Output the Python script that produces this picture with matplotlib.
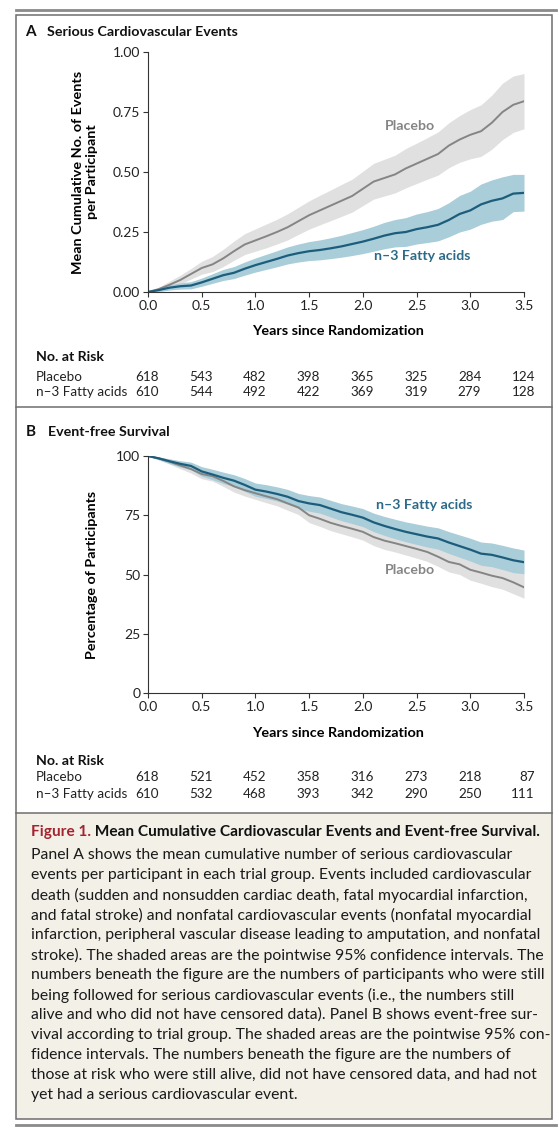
import numpy as np
import matplotlib
matplotlib.use('Agg')
import matplotlib.pyplot as plt
from matplotlib.patches import Rectangle

plt.rcParams['font.family'] = ['Lato', 'DejaVu Sans']

# years since randomization
years = [0.0, 0.1, 0.2, 0.3, 0.4, 0.5, 0.6, 0.7, 0.8, 0.9, 1.0, 1.1, 1.2, 1.3, 1.4, 1.5, 1.6, 1.7,
         1.8, 1.9, 2.0, 2.1, 2.2, 2.3, 2.4, 2.5, 2.6, 2.7, 2.8, 2.9, 3.0, 3.1, 3.2, 3.3, 3.4, 3.5]

# Panel A: mean cumulative events per participant
a_placebo = [0.0, 0.012, 0.03, 0.05, 0.075, 0.1, 0.115, 0.14, 0.17, 0.198, 0.215, 0.232, 0.25, 0.27,
             0.295, 0.32, 0.34, 0.36, 0.38, 0.4, 0.43, 0.46, 0.475, 0.49, 0.515, 0.535, 0.555, 0.575,
             0.61, 0.635, 0.655, 0.67, 0.705, 0.75, 0.78, 0.795]
a_placebo_hi = [0.0, 0.02, 0.045, 0.07, 0.098, 0.128, 0.148, 0.178, 0.212, 0.243, 0.263, 0.283, 0.303,
                0.326, 0.353, 0.38, 0.403, 0.425, 0.448, 0.47, 0.503, 0.536, 0.553, 0.57, 0.598, 0.62,
                0.643, 0.667, 0.705, 0.735, 0.76, 0.78, 0.82, 0.87, 0.9, 0.91]
a_placebo_lo = [0.0, 0.005, 0.018, 0.033, 0.054, 0.074, 0.085, 0.106, 0.132, 0.156, 0.17, 0.184, 0.2,
                0.217, 0.24, 0.262, 0.28, 0.297, 0.315, 0.333, 0.36, 0.387, 0.4, 0.413, 0.434, 0.452,
                0.47, 0.487, 0.518, 0.54, 0.555, 0.565, 0.595, 0.635, 0.665, 0.68]
a_n3 = [0.0, 0.008, 0.018, 0.024, 0.027, 0.04, 0.055, 0.07, 0.08, 0.097, 0.112, 0.125, 0.138, 0.152,
        0.162, 0.17, 0.175, 0.182, 0.19, 0.2, 0.21, 0.222, 0.235, 0.245, 0.25, 0.262, 0.27, 0.28, 0.3,
        0.325, 0.34, 0.365, 0.38, 0.39, 0.41, 0.413]
a_n3_hi = [0.0, 0.015, 0.03, 0.038, 0.043, 0.058, 0.076, 0.094, 0.106, 0.125, 0.142, 0.157, 0.172,
           0.188, 0.2, 0.21, 0.217, 0.226, 0.236, 0.248, 0.26, 0.274, 0.29, 0.302, 0.31, 0.325, 0.335,
           0.348, 0.372, 0.402, 0.42, 0.45, 0.467, 0.48, 0.49, 0.49]
a_n3_lo = [0.0, 0.002, 0.008, 0.012, 0.013, 0.024, 0.036, 0.048, 0.056, 0.07, 0.083, 0.094, 0.105,
           0.117, 0.125, 0.131, 0.134, 0.139, 0.145, 0.152, 0.16, 0.17, 0.18, 0.188, 0.19, 0.2, 0.206,
           0.213, 0.23, 0.25, 0.262, 0.282, 0.295, 0.302, 0.335, 0.337]

# Panel B: event-free survival (%)
b_n3 = [100, 99.0, 97.8, 96.7, 95.8, 93.5, 92.2, 90.8, 89.6, 87.8, 85.8, 85.0, 84.0, 82.8, 81.0, 80.0,
        79.3, 77.8, 76.3, 75.2, 74.0, 72.0, 70.5, 69.2, 68.0, 67.0, 66.0, 65.2, 63.5, 62.0, 60.5, 58.8,
        58.3, 57.2, 56.0, 55.2]
b_n3_hi = [100, 99.6, 98.8, 98.0, 97.4, 95.5, 94.4, 93.2, 92.1, 90.5, 88.6, 87.9, 87.0, 85.9, 84.2,
           83.3, 82.7, 81.3, 79.9, 78.9, 77.8, 75.9, 74.5, 73.3, 72.2, 71.3, 70.4, 69.7, 68.1, 66.7,
           65.3, 63.7, 63.3, 62.3, 61.2, 60.3]
b_n3_lo = [100, 98.4, 96.8, 95.4, 94.2, 91.5, 90.0, 88.4, 87.1, 85.1, 83.0, 82.1, 81.0, 79.7, 77.8,
           76.7, 75.9, 74.3, 72.7, 71.5, 70.2, 68.1, 66.5, 65.1, 63.8, 62.7, 61.6, 60.7, 58.9, 57.3,
           55.7, 53.9, 53.3, 52.1, 50.8, 50.3]
b_placebo = [100, 99.0, 97.6, 96.0, 94.5, 92.4, 91.5, 89.5, 87.2, 85.6, 84.3, 83.0, 81.8, 80.0, 78.3,
             75.0, 73.5, 71.8, 70.5, 69.3, 68.0, 65.8, 64.3, 63.2, 62.0, 60.8, 59.5, 57.5, 55.3, 54.3,
             52.0, 50.8, 49.5, 48.5, 46.7, 44.6]
b_placebo_hi = [100, 99.6, 98.6, 97.4, 96.2, 94.4, 93.6, 91.8, 89.6, 88.1, 86.9, 85.7, 84.6, 82.9,
                81.3, 78.1, 76.7, 75.1, 73.8, 72.7, 71.5, 69.4, 68.0, 66.9, 65.8, 64.7, 63.5, 61.6,
                59.5, 58.6, 56.4, 55.3, 54.1, 53.2, 51.5, 50.3]
b_placebo_lo = [100, 98.4, 96.6, 94.6, 92.8, 90.4, 89.4, 87.2, 84.8, 83.1, 81.7, 80.3, 79.0, 77.1,
                75.3, 71.9, 70.3, 68.5, 67.2, 65.9, 64.5, 62.2, 60.6, 59.5, 58.2, 56.9, 55.5, 53.4,
                51.1, 50.0, 47.6, 46.3, 44.9, 43.8, 41.9, 40.0]

# numbers at risk
risk_years = [0.0, 0.5, 1.0, 1.5, 2.0, 2.5, 3.0, 3.5]
a_risk_placebo = [618, 543, 482, 398, 365, 325, 284, 124]
a_risk_n3 = [610, 544, 492, 422, 369, 319, 279, 128]
b_risk_placebo = [618, 521, 452, 358, 316, 273, 218, 87]
b_risk_n3 = [610, 532, 468, 393, 342, 290, 250, 111]

caption_lines = [
    "Panel A shows the mean cumulative number of serious cardiovascular",
    "events per participant in each trial group. Events included cardiovascular",
    "death (sudden and nonsudden cardiac death, fatal myocardial infarction,",
    "and fatal stroke) and nonfatal cardiovascular events (nonfatal myocardial",
    "infarction, peripheral vascular disease leading to amputation, and nonfatal",
    "stroke). The shaded areas are the pointwise 95% confidence intervals. The",
    "numbers beneath the figure are the numbers of participants who were still",
    "being followed for serious cardiovascular events (i.e., the numbers still",
    "alive and who did not have censored data). Panel B shows event-free sur-",
    "vival according to trial group. The shaded areas are the pointwise 95% con-",
    "fidence intervals. The numbers beneath the figure are the numbers of",
    "those at risk who were still alive, did not have censored data, and had not",
    "yet had a serious cardiovascular event.",
]

TEAL = '#1d5d7c'
TEAL_BAND = '#a9cdd9'
GREY = '#858585'
GREY_BAND = '#e0e0e0'
FRAME = '#6e6e6e'

W, H = 559, 1134
fig = plt.figure(figsize=(W / 100, H / 100), dpi=100)

# background layer in pixel coordinates
bg = fig.add_axes([0, 0, 1, 1])
bg.set_xlim(0, W)
bg.set_ylim(H, 0)
bg.axis('off')

bg.add_patch(Rectangle((16, 812.5), 536, 306.5, facecolor='#f3f0e8', edgecolor='none'))
bg.add_patch(Rectangle((16, 14.5), 536, 1104.5, facecolor='none', edgecolor=FRAME, lw=1.1))
bg.plot([16, 552], [407, 407], color=FRAME, lw=1.1)
bg.plot([16, 552], [812.5, 812.5], color=FRAME, lw=1.1)
bg.plot([16, 556], [10, 10], color='#8a8a8a', lw=2.0)
bg.plot([16, 556], [1125, 1125], color='#8a8a8a', lw=2.0)


def px_axes(left, top, right, bottom):
    return fig.add_axes([left / W, 1 - bottom / H, (right - left) / W, (bottom - top) / H])


def style_axes(ax):
    ax.set_facecolor('none')
    for s in ['top', 'right']:
        ax.spines[s].set_visible(False)
    for s in ['left', 'bottom']:
        ax.spines[s].set_color('#333333')
        ax.spines[s].set_linewidth(0.8)
    ax.tick_params(direction='out', length=3.5, width=0.8, color='#333333',
                   labelsize=10, labelcolor='#222222', pad=2)
    ax.set_xlim(0, 3.5)
    ax.set_xticks(risk_years)
    ax.set_xticklabels([f'{v:.1f}' for v in risk_years])


def risk_table(y_head, y1, y2, row1, row2):
    bg.text(36, y_head, 'No. at Risk', fontsize=10.2, fontweight='bold', va='center', color='#111111')
    bg.text(36, y1, 'Placebo', fontsize=9.7, va='center', color='#222222')
    bg.text(36, y2, 'n\u20133 Fatty acids', fontsize=9.7, va='center', color='#222222')
    for yr, v1, v2 in zip(risk_years, row1, row2):
        x = 148 + yr / 3.5 * 376 + 11
        bg.text(x, y1, str(v1), fontsize=9.7, va='center', ha='right', color='#222222')
        bg.text(x, y2, str(v2), fontsize=9.7, va='center', ha='right', color='#222222')


# ---- Panel A
bg.text(25, 32, 'A', fontsize=11, fontweight='bold', va='center', color='#111111')
bg.text(47, 32, 'Serious Cardiovascular Events', fontsize=10.3, fontweight='bold', va='center',
        color='#111111')
axA = px_axes(148, 52, 524, 292)
style_axes(axA)
axA.fill_between(years, a_placebo_lo, a_placebo_hi, color=GREY_BAND, lw=0)
axA.fill_between(years, a_n3_lo, a_n3_hi, color=TEAL_BAND, lw=0)
axA.plot(years, a_placebo, color=GREY, lw=1.4)
axA.plot(years, a_n3, color=TEAL, lw=1.6)
axA.set_ylim(0, 1.0)
axA.set_yticks([0, 0.25, 0.5, 0.75, 1.0])
axA.set_yticklabels(['0.00', '0.25', '0.50', '0.75', '1.00'])
axA.text(2.44, 0.69, 'Placebo', color=GREY, fontsize=10.2, fontweight='bold', ha='center', va='center')
axA.text(2.55, 0.15, 'n\u20133 Fatty acids', color='#2b6a88', fontsize=10.2, fontweight='bold',
         ha='center', va='center')
bg.text(85, 172, 'Mean Cumulative No. of Events\nper Participant', rotation=90, fontsize=10.4,
        fontweight='bold', ha='center', va='center', multialignment='center', linespacing=1.15)
bg.text(338, 331, 'Years since Randomization', fontsize=10.4, fontweight='bold', ha='center',
        va='center')
risk_table(357, 377, 392, a_risk_placebo, a_risk_n3)

# ---- Panel B
bg.text(26, 432, 'B', fontsize=11, fontweight='bold', va='center', color='#111111')
bg.text(48, 432, 'Event-free Survival', fontsize=10.3, fontweight='bold', va='center', color='#111111')
axB = px_axes(148, 456, 524, 693)
style_axes(axB)
axB.fill_between(years, b_placebo_lo, b_placebo_hi, color=GREY_BAND, lw=0)
axB.fill_between(years, b_n3_lo, b_n3_hi, color=TEAL_BAND, lw=0)
axB.plot(years, b_placebo, color=GREY, lw=1.4)
axB.plot(years, b_n3, color=TEAL, lw=1.6)
axB.set_ylim(0, 100)
axB.set_yticks([0, 25, 50, 75, 100])
axB.text(2.57, 79.3, 'n\u20133 Fatty acids', color='#2b6a88', fontsize=10.2, fontweight='bold',
         ha='center', va='center')
axB.text(2.44, 51.9, 'Placebo', color=GREY, fontsize=10.2, fontweight='bold', ha='center', va='center')
bg.text(92, 575, 'Percentage of Participants', rotation=90, fontsize=10.3, fontweight='bold',
        ha='center', va='center')
bg.text(338, 733, 'Years since Randomization', fontsize=10.4, fontweight='bold', ha='center',
        va='center')
risk_table(761, 777, 794, b_risk_placebo, b_risk_n3)

# ---- Caption
t1 = bg.text(31, 832, 'Figure 1.', fontsize=11.1, fontweight='bold', color='#a3232e', va='center')
bg.annotate(' Mean Cumulative Cardiovascular Events and Event-free Survival.', xy=(1, 0.5),
            xycoords=t1, fontsize=11.1, fontweight='bold', color='#111111', va='center', ha='left')
for i, line in enumerate(caption_lines):
    bg.text(31, 855 + 20 * i, line, fontsize=11.3, color='#1a1a1a', va='center')

fig.savefig('out.png', dpi=100)
